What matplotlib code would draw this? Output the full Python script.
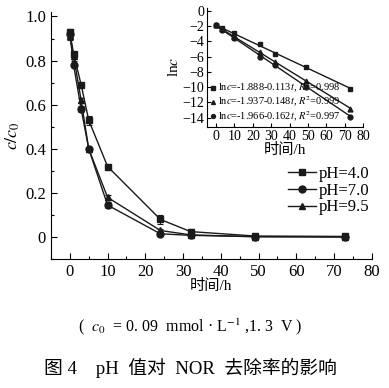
import matplotlib
matplotlib.use("Agg")
import matplotlib.pyplot as plt
from matplotlib.lines import Line2D
from matplotlib.ticker import MultipleLocator

plt.rcParams['font.family'] = ['Liberation Serif', 'Noto Sans CJK SC']
plt.rcParams['mathtext.fontset'] = 'stix'

# main plot data (c/c0 vs time)
t = [0, 1, 3, 5, 10, 24, 32, 49, 73]
ph40 = [0.93, 0.83, 0.69, 0.53, 0.32, 0.08, 0.025, 0.005, 0.003]
ph70 = [0.92, 0.78, 0.58, 0.40, 0.145, 0.015, 0.008, 0.002, 0.002]
ph95 = [0.91, 0.82, 0.62, 0.40, 0.18, 0.03, 0.01, 0.002, 0.0]
err40 = [0.015, 0.01, 0.01, 0.02, 0.012, 0.02, 0.01, 0.005, 0.005]
err70 = [0.015, 0.01, 0.015, 0.01, 0.015, 0.008, 0.005, 0.005, 0.005]
err95 = [0.015, 0.02, 0.01, 0.01, 0.012, 0.008, 0.005, 0.005, 0.005]
labels = ['pH=4.0', 'pH=7.0', 'pH=9.5']

# inset data (ln c vs time) and fits
t_in = [0, 3, 10, 24, 32, 49, 73]
ln40 = [-1.9, -2.2, -2.9, -4.4, -5.6, -7.4, -10.2]
ln70 = [-1.9, -2.5, -3.6, -6.0, -7.1, -9.95, -13.9]
ln95 = [-1.9, -2.4, -3.4, -5.35, -6.7, -9.2, -12.8]
fits = [(-1.888, -0.113, '0.998'), (-1.937, -0.148, '0.999'), (-1.966, -0.162, '0.997')]

fig = plt.figure(figsize=(3.89, 3.88), dpi=100)
ax = fig.add_axes([0.131, 0.332, 0.825, 0.637])

lc = '#1a1a1a'
handles = []
for y, e, m, lab in [(ph40, err40, 's', labels[0]), (ph70, err70, 'o', labels[1]), (ph95, err95, '^', labels[2])]:
    ax.errorbar(t, y, yerr=e, color=lc, marker=m, markersize=5, lw=1.0,
                capsize=2, elinewidth=0.8, capthick=0.8)
    handles.append(Line2D([], [], color=lc, marker=m, markersize=5, lw=1.0, label=lab))

ax.set_xlim(-5, 80)
ax.set_ylim(-0.1, 1.02)
ax.xaxis.set_major_locator(MultipleLocator(10))
ax.xaxis.set_minor_locator(MultipleLocator(5))
ax.yaxis.set_minor_locator(MultipleLocator(0.1))
ax.set_yticks([0, 0.2, 0.4, 0.6, 0.8, 1.0])
ax.set_yticklabels(['0', '0.2', '0.4', '0.6', '0.8', '1.0'])
ax.tick_params(which='both', direction='in', labelsize=12, width=0.8)
ax.tick_params(which='major', length=4)
ax.tick_params(which='minor', length=2.5)
for s in ['top', 'right']:
    ax.spines[s].set_visible(False)
ax.set_xlabel('时间/h', fontsize=11, labelpad=-1)
ax.set_ylabel('$c/c_0$', fontsize=13, labelpad=2)

ax.legend(handles=handles, loc='upper left', bbox_to_anchor=(0.735, 0.577),
          bbox_transform=fig.transFigure, frameon=False, fontsize=12,
          handlelength=1.7, handletextpad=0.15, labelspacing=0.05,
          borderpad=0.1, borderaxespad=0)

# inset
ins = fig.add_axes([0.532, 0.673, 0.401, 0.307])
tt = [0, 73]
for y, m, (a, b, r2) in zip([ln40, ln95, ln70], ['s', '^', 'o'], fits):
    ins.plot(t_in, y, ls='none', marker=m, color=lc, markersize=3.5,
             label='ln$c$=%.3f%.3f$t$, $R^2$=%s' % (a, b, r2))
    ins.plot(tt, [a + b * x for x in tt], color=lc, lw=1.0)
ins.set_xlim(-5, 80)
ins.set_ylim(-15.2, 0.4)
ins.xaxis.set_major_locator(MultipleLocator(10))
ins.set_yticks(range(-14, 1, 2))
ins.tick_params(which='both', direction='in', labelsize=10, length=3, width=0.8, pad=2)
for s in ['top', 'right']:
    ins.spines[s].set_visible(False)
ins.set_xlabel('时间/h', fontsize=11, labelpad=0)
ins.set_ylabel('ln$c$', fontsize=11, labelpad=1)
ins.legend(loc='lower left', frameon=False, fontsize=7.5, handlelength=0.5,
           handletextpad=0.3, labelspacing=0.0, borderpad=0.1, borderaxespad=0.2,
           markerscale=0.8)

fig.text(0.49, 0.157, '(  $c_0$  = 0. 09  mmol · L$^{-1}$ ,1. 3  V )', ha='center', va='center', fontsize=11.5)
fig.text(0.49, 0.052, '图 4    pH  值对  NOR  去除率的影响', ha='center', va='center', fontsize=13.5)

fig.savefig('out.png', dpi=100)
